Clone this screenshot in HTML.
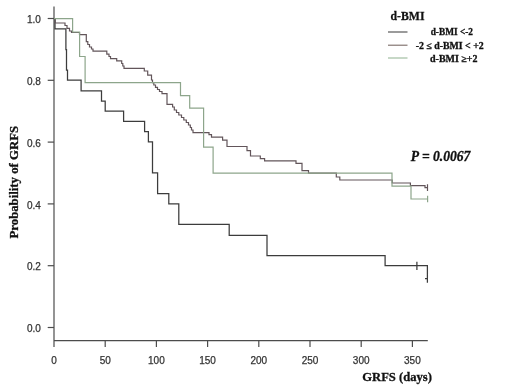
<!DOCTYPE html>
<html><head><meta charset="utf-8"><title>GRFS by d-BMI</title>
<style>
html,body{margin:0;padding:0;background:#fff;}
body{width:520px;height:389px;overflow:hidden;}
svg{display:block;}
.ax{font-family:"Liberation Sans",sans-serif;font-size:10px;fill:#333;stroke:#333;stroke-width:0.25px;}
.ser{font-family:"Liberation Serif",serif;font-weight:bold;fill:#111;stroke:#111;stroke-width:0.3px;}
</style></head><body>
<svg width="520" height="389" viewBox="0 0 520 389">
<rect width="520" height="389" fill="#fff"/>

<g stroke="#4c4c4c" stroke-width="1.2" fill="none">
<path d="M54,6.4 V347"/>
<path d="M54,340.7 H427.8"/>
<path d="M47.7,18.5 H54"/>
<path d="M47.7,80.3 H54"/>
<path d="M47.7,142.1 H54"/>
<path d="M47.7,203.9 H54"/>
<path d="M47.7,265.7 H54"/>
<path d="M47.7,327.5 H54"/>
<path d="M105.2,340.7 V347"/>
<path d="M156.4,340.7 V347"/>
<path d="M207.6,340.7 V347"/>
<path d="M258.8,340.7 V347"/>
<path d="M310,340.7 V347"/>
<path d="M361.2,340.7 V347"/>
<path d="M412.4,340.7 V347"/>
</g>
<text class="ax" x="40.8" y="23.1" text-anchor="end">1.0</text>
<text class="ax" x="40.8" y="84.9" text-anchor="end">0.8</text>
<text class="ax" x="40.8" y="146.7" text-anchor="end">0.6</text>
<text class="ax" x="40.8" y="208.5" text-anchor="end">0.4</text>
<text class="ax" x="40.8" y="270.3" text-anchor="end">0.2</text>
<text class="ax" x="40.8" y="332.1" text-anchor="end">0.0</text>
<text class="ax" x="54" y="364.3" text-anchor="middle">0</text>
<text class="ax" x="105.2" y="364.3" text-anchor="middle">50</text>
<text class="ax" x="156.4" y="364.3" text-anchor="middle">100</text>
<text class="ax" x="207.6" y="364.3" text-anchor="middle">150</text>
<text class="ax" x="258.8" y="364.3" text-anchor="middle">200</text>
<text class="ax" x="310" y="364.3" text-anchor="middle">250</text>
<text class="ax" x="361.2" y="364.3" text-anchor="middle">300</text>
<text class="ax" x="412.4" y="364.3" text-anchor="middle">350</text>
<path d="M54,18.6 L55,18.6 L55,28.9 L65.9,28.9 L65.9,49.5 L66.5,49.5 L66.5,70.1 L67.5,70.1 L67.5,80 L81.1,80 L81.1,90.9 L101.5,90.9 L101.5,101 L105.2,101 L105.2,111.2 L123.6,111.2 L123.6,121.4 L144.6,121.4 L144.6,131.6 L148.4,131.6 L148.4,141.9 L152.5,141.9 L152.5,172.9 L157.6,172.9 L157.6,193.6 L168.8,193.6 L168.8,203.9 L178.8,203.9 L178.8,224.4 L229.2,224.4 L229.2,235.4 L267,235.4 L267,255.7 L385.1,255.7 L385.1,265.7 L427.4,265.7 L427.4,278.5 M416.9,261.8 V270.1 M427.4,274.3 V282.7 M425,278.5 H427.4" stroke="#3c3c3c" stroke-width="1.25" fill="none"/>
<path d="M54,18.6 L55.2,18.6 L55.2,23 L65,23 L65,25.5 L67,25.5 L67,28.4 L69.5,28.4 L69.5,31 L71.5,31 L71.5,32.5 L79.5,32.5 L79.5,34.6 L86.3,34.6 L86.3,41.7 L87.8,41.7 L87.8,44.5 L89.5,44.5 L89.5,47 L91.5,47 L91.5,49 L93,49 L93,51.2 L106.8,51.2 L106.8,54.2 L109,54.2 L109,56.5 L110.5,56.5 L110.5,58.6 L116.7,58.6 L116.7,60.9 L121.7,60.9 L121.7,63.5 L122.8,63.5 L122.8,66 L124,66 L124,68.4 L144.3,68.4 L144.3,71 L147.7,71 L147.7,75.1 L151.5,75.1 L151.5,80 L152.5,80 L152.5,82.6 L153.8,82.6 L153.8,85 L155.5,85 L155.5,87.3 L157.5,87.3 L157.5,89.5 L159.5,89.5 L159.5,91.5 L162,91.5 L162,93.6 L167,93.6 L167,104.3 L172.6,104.3 L172.6,107 L174.3,107 L174.3,110 L176.5,110 L176.5,112.5 L178.8,112.5 L178.8,115 L181.5,115 L181.5,117.5 L183.8,117.5 L183.8,120 L186.3,120 L186.3,122.5 L188.5,122.5 L188.5,125 L190.3,125 L190.3,127.5 L191.5,127.5 L191.5,130 L193,130 L193,132.6 L209,132.6 L209,134.7 L211.5,134.7 L211.5,137.1 L222.6,137.1 L222.6,140.1 L227,140.1 L227,146.5 L247,146.5 L247,150.6 L250.5,150.6 L250.5,156 L260.3,156 L260.3,158.6 L264.6,158.6 L264.6,160.9 L296,160.9 L296,163.4 L302,163.4 L302,170.6 L308.5,170.6 L308.5,173.1 L336.3,173.1 L336.3,177 L339.8,177 L339.8,180 L392.2,180 L392.2,183 L410.4,183 L410.4,185.6 L425,185.6 L425,187.7 L427.5,187.7 M427.5,184.3 V191" stroke="#62555a" stroke-width="1.2" fill="none"/>
<path d="M54,18.6 L72.6,18.6 L72.6,32 L79.6,32 L79.6,56.5 L85.1,56.5 L85.1,82.7 L180.5,82.7 L180.5,95.6 L189.7,95.6 L189.7,108.1 L203.6,108.1 L203.6,147.1 L213.1,147.1 L213.1,173.1 L392,173.1 L392,186.1 L411,186.1 L411,199 L427.6,199 M427.6,195.8 V202.3" stroke="#8da58b" stroke-width="1.2" fill="none"/>
<text class="ser" x="390.5" y="19.6" font-size="13.5" textLength="34" lengthAdjust="spacingAndGlyphs">d-BMI</text>
<path d="M388,32 H407.5" stroke="#4a4a4a" stroke-width="1.1"/>
<path d="M388,45.2 H407.5" stroke="#7a6a66" stroke-width="1.1"/>
<path d="M388,58 H407.5" stroke="#9ab89a" stroke-width="1.1"/>
<text class="ser" x="473" y="35.3" font-size="9.5" text-anchor="end" textLength="42.3" lengthAdjust="spacingAndGlyphs">d-BMI &lt;-2</text>
<text class="ser" x="483.7" y="48.6" font-size="9.5" text-anchor="end" textLength="68" lengthAdjust="spacingAndGlyphs">-2 ≤ d-BMI &lt; +2</text>
<text class="ser" x="477.5" y="61.6" font-size="9.5" text-anchor="end" textLength="47.5" lengthAdjust="spacingAndGlyphs">d-BMI ≥+2</text>
<text class="ser" x="410.7" y="160.6" font-size="14" font-style="italic" textLength="59.7" lengthAdjust="spacingAndGlyphs">P = 0.0067</text>
<text class="ser" x="362.2" y="381.2" font-size="13.5" textLength="69.8" lengthAdjust="spacingAndGlyphs">GRFS (days)</text>
<text class="ser" font-size="12.8" text-anchor="middle" textLength="112.6" lengthAdjust="spacingAndGlyphs" transform="translate(17.6,182.2) rotate(-90)">Probability of GRFS</text>
</svg></body></html>
